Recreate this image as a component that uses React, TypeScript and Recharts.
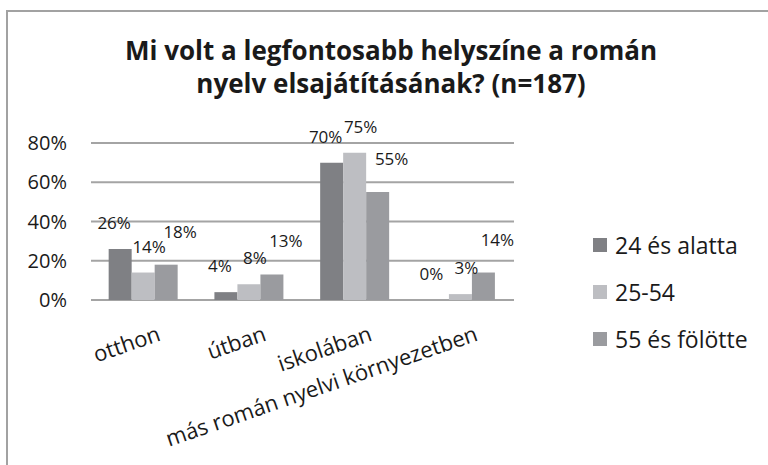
import * as React from "react"
import { Bar, BarChart, CartesianGrid, LabelList, XAxis, YAxis } from "recharts"

const places = ["otthon", "útban", "iskolában", "más román nyelvi környezetben"]
const seriesNames = ["24 és alatta", "25-54", "55 és fölötte"]
const young = [26, 4, 70, 0]
const middle = [14, 8, 75, 3]
const old = [18, 13, 55, 14]
const yTicks = [0, 20, 40, 60, 80]

const keys = ["young", "middle", "old"]
const colors = ["#7f8084", "#bdbec2", "#9a9b9f"]
// label nudges per series (dx, lift above bar top)
const labelShift = [-6, 6, 14]
const labelLift = [20, 20, 27]

const data = places.map((place, i) => ({
  place,
  young: young[i],
  middle: middle[i],
  old: old[i],
}))

const font = "'Open Sans', sans-serif"
const ink = "#1a1a1a"

function PlaceTick({ x, y, payload }: any) {
  const ax = x + 18
  const ay = y + 40
  return (
    <text
      x={ax}
      y={ay}
      textAnchor="end"
      transform={`rotate(-19, ${ax}, ${ay})`}
      fontSize={22}
      fontFamily={font}
      fill={ink}
    >
      {payload.value}
    </text>
  )
}

function makeLabel(shift: number, lift: number) {
  return ({ x, y, width, value }: any) => (
    <text
      x={x + width / 2 + shift}
      y={y - lift}
      textAnchor="middle"
      fontSize={17}
      fontFamily={font}
      fill={ink}
    >
      {value}%
    </text>
  )
}

export default function App() {
  return (
    <div
      style={{
        position: "absolute",
        left: 0,
        top: 0,
        width: 768,
        height: 465,
        overflow: "hidden",
        background: "#fff",
        fontFamily: font,
      }}
    >
      <div
        style={{
          position: "absolute",
          left: 6,
          top: 10,
          width: 820,
          height: 520,
          border: "2.5px solid #a2a2a2",
        }}
      />
      <div
        style={{
          position: "absolute",
          left: 0,
          width: 782,
          top: 34,
          textAlign: "center",
          fontSize: 26,
          fontWeight: 700,
          lineHeight: "33px",
          color: ink,
        }}
      >
        Mi volt a legfontosabb helyszíne a román
        <br />
        nyelv elsajátításának? (n=187)
      </div>
      <BarChart
        width={768}
        height={465}
        data={data}
        margin={{ top: 143, right: 254, bottom: 0, left: 0 }}
        barCategoryGap="16.7%"
        barGap={0}
        style={{ position: "absolute", left: 0, top: 0 }}
      >
        <CartesianGrid vertical={false} stroke="#a4a4a4" strokeWidth={2} />
        <XAxis
          dataKey="place"
          height={165}
          axisLine={false}
          tickLine={false}
          tickSize={0}
          tickMargin={0}
          interval={0}
          tick={<PlaceTick />}
        />
        <YAxis
          width={91}
          domain={[0, 80]}
          ticks={yTicks}
          axisLine={false}
          tickLine={false}
          tickSize={0}
          tickMargin={24}
          tickFormatter={(v: number) => `${v}%`}
          tick={{ fontSize: 20, fontFamily: font, fill: ink }}
        />
        {keys.map((k, i) => (
          <Bar
            key={k}
            dataKey={k}
            name={seriesNames[i]}
            fill={colors[i]}
            minPointSize={0.01}
            isAnimationActive={false}
          >
            <LabelList dataKey={k} content={makeLabel(labelShift[i], labelLift[i])} />
          </Bar>
        ))}
      </BarChart>
      {seriesNames.map((name, i) => (
        <div
          key={name}
          style={{
            position: "absolute",
            left: 593,
            top: 229 + i * 47,
            height: 32,
            display: "flex",
            alignItems: "center",
            fontSize: 23,
            color: ink,
          }}
        >
          <span
            style={{
              width: 14,
              height: 14,
              background: colors[i],
              marginRight: 8,
              display: "inline-block",
            }}
          />
          {name}
        </div>
      ))}
    </div>
  )
}
